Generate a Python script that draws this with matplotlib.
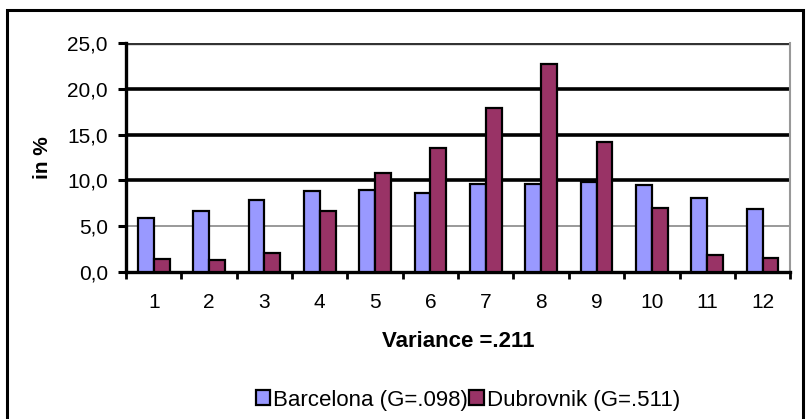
import numpy as np
import matplotlib
matplotlib.use("Agg")
import matplotlib.pyplot as plt
from matplotlib.patches import Rectangle
from matplotlib.ticker import FuncFormatter

plt.rcParams['font.family'] = ['Liberation Sans', 'DejaVu Sans']

categories = ['1', '2', '3', '4', '5', '6', '7', '8', '9', '10', '11', '12']
barcelona = [5.9, 6.7, 7.9, 8.8, 8.9, 8.6, 9.6, 9.6, 9.8, 9.5, 8.1, 6.9]
dubrovnik = [1.4, 1.3, 2.1, 6.7, 10.8, 13.5, 17.9, 22.7, 14.2, 7.0, 1.9, 1.5]
labels = ['Barcelona (G=.098)', 'Dubrovnik (G=.511)']

fs = 15
fig = plt.figure(figsize=(8.08, 4.19), dpi=100)
ax = fig.add_axes([0.156, 0.351, 0.822, 0.546])

# outer frame of the chart
fig.patches.append(Rectangle((7 / 808, -0.1), 796 / 808, 1.1 - 10 / 419,
                             transform=fig.transFigure, fill=False,
                             edgecolor='black', linewidth=2.2))

x = np.arange(len(categories))
w = 0.286
ax.bar(x - w / 2, barcelona, w, color='#9999FF', edgecolor='black', linewidth=1.6,
       label=labels[0], zorder=3)
ax.bar(x + w / 2, dubrovnik, w, color='#993366', edgecolor='black', linewidth=1.6,
       label=labels[1], zorder=3)

# gridlines
ax.axhline(5, color='#888888', linewidth=1.2, zorder=1)
for v in (10, 15, 20):
    ax.axhline(v, color='black', linewidth=2.6, zorder=1)
ax.axhline(25, color='#333333', linewidth=2.4, zorder=1)

ax.set_xlim(-0.5, len(categories) - 0.5)
ax.set_ylim(0, 25)
ax.set_yticks([0, 5, 10, 15, 20, 25])
ax.yaxis.set_major_formatter(FuncFormatter(lambda v, p: f"{v:.1f}".replace('.', ',')))

ax.set_xticks(x)
ax.set_xticklabels(categories)
ax.set_xticks(np.arange(-0.5, len(categories)), minor=True)
ax.tick_params(axis='x', which='major', length=0, pad=15, labelsize=fs)
ax.tick_params(axis='x', which='minor', length=5, width=2, direction='out')
ax.tick_params(axis='y', length=6, width=2.2, labelsize=fs, pad=7)

for s in ('left', 'bottom'):
    ax.spines[s].set_linewidth(2.4)
ax.spines['top'].set_visible(False)
ax.spines['right'].set_color('#999999')
ax.spines['right'].set_linewidth(1.5)

ax.set_ylabel('in %', fontsize=fs, fontweight='bold')
ax.yaxis.set_label_coords(-0.1265, 0.5)
ax.set_xlabel('Variance =.211', fontsize=fs + 1, fontweight='bold')
ax.xaxis.set_label_coords(0.5, -0.306)
ax.xaxis.label.set_va('center')
ax.yaxis.label.set_va('center')

fig.legend(loc='center', bbox_to_anchor=(468 / 808, 1 - 400 / 419), ncol=2,
           frameon=False, fontsize=fs + 1, handlelength=0.65, handleheight=0.65,
           handletextpad=0.15, columnspacing=0.05)

fig.savefig('out.png', dpi=100)
